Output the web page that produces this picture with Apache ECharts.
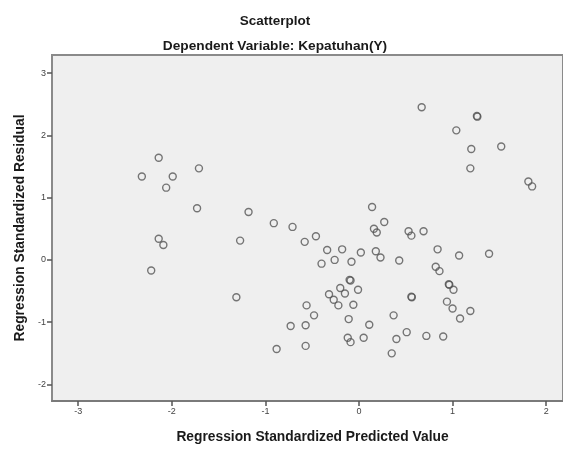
<!DOCTYPE html>
<html>
<head>
<meta charset="utf-8">
<script src="https://cdn.jsdelivr.net/npm/echarts@6/dist/echarts.min.js"></script>
<style>
  html, body { margin: 0; padding: 0; background: #fff; }
  #chart { width: 563px; height: 449px; }
</style>
</head>
<body>
<div id="chart"></div>
<script>
// predicted value (x) and residual (y)
const predicted = [
  -2.32, -2.14, -1.99, -2.06, -2.22, -2.14, -2.09, -1.71, -1.73, -1.31,
  -1.27, -1.18, -0.91, -0.71, -0.88, -0.73, -0.58, -0.46, -0.56, -0.48,
  -0.57, -0.57, -0.40, -0.34, -0.26, -0.18, -0.08, 0.02, -0.10, -0.09,
  -0.20, -0.01, -0.32, -0.15, -0.27, -0.22, -0.06, -0.11, -0.12, -0.09,
  0.05, 0.11, 0.14, 0.27, 0.16, 0.19, 0.18, 0.23, 0.43, 0.53,
  0.56, 0.69, 0.56, 0.565, 0.37, 0.51, 0.40, 0.35, 0.72, 0.90,
  0.84, 1.07, 1.39, 0.82, 0.86, 0.96, 0.965, 1.01, 0.94, 1.00,
  1.19, 1.08, 0.67, 1.26, 1.265, 1.04, 1.20, 1.52, 1.19, 1.81,
  1.85
];
const residual = [
  1.34, 1.64, 1.34, 1.16, -0.17, 0.34, 0.24, 1.47, 0.83, -0.60,
  0.31, 0.77, 0.59, 0.53, -1.43, -1.06, 0.29, 0.38, -0.73, -0.89,
  -1.05, -1.38, -0.06, 0.16, 0.00, 0.17, -0.03, 0.12, -0.32, -0.33,
  -0.45, -0.48, -0.55, -0.54, -0.64, -0.73, -0.72, -0.95, -1.25, -1.32,
  -1.25, -1.04, 0.85, 0.61, 0.50, 0.44, 0.14, 0.04, -0.01, 0.46,
  0.39, 0.46, -0.59, -0.60, -0.89, -1.16, -1.27, -1.50, -1.22, -1.23,
  0.17, 0.07, 0.10, -0.11, -0.18, -0.39, -0.40, -0.48, -0.67, -0.78,
  -0.82, -0.94, 2.45, 2.31, 2.30, 2.08, 1.78, 1.82, 1.47, 1.26,
  1.18
];
const xTicks = [-3, -2, -1, 0, 1, 2];
const yTicks = [-2, -1, 0, 1, 2, 3];

const points = predicted.map((x, i) => [x, residual[i]]);

const chart = echarts.init(document.getElementById('chart'));
const font = 'Arial, "Liberation Sans", sans-serif';

chart.setOption({
  animation: false,
  backgroundColor: '#fff',
  title: [
    {
      text: 'Scatterplot',
      left: 270,
      top: 9,
      textAlign: 'center',
      textStyle: { fontFamily: font, fontSize: 13.5, fontWeight: 'bold', color: '#1a1a1a' }
    },
    {
      text: 'Dependent Variable: Kepatuhan(Y)',
      left: 270,
      top: 34,
      textAlign: 'center',
      textStyle: { fontFamily: font, fontSize: 13.7, fontWeight: 'bold', color: '#1a1a1a' }
    }
  ],
  grid: {
    left: 52,
    right: -2,
    top: 55,
    bottom: 44,
    show: true,
    backgroundColor: '#efefef',
    borderColor: '#8a8a8a',
    borderWidth: 2
  },
  xAxis: {
    type: 'value',
    min: -3.28,
    max: 2.18,
    name: 'Regression Standardized Predicted Value',
    nameLocation: 'middle',
    nameGap: 29,
    nameTextStyle: { fontFamily: font, fontSize: 13.8, fontWeight: 'bold', color: '#1a1a1a', padding: [0, 0, 0, 10] },
    splitLine: { show: false },
    axisLine: { show: true, onZero: false, lineStyle: { color: '#7a7a7a', width: 2 } },
    axisTick: { show: true, length: 5, customValues: xTicks, lineStyle: { color: '#555', width: 1.5 } },
    axisLabel: { customValues: xTicks, fontFamily: font, fontSize: 9, color: '#444', margin: 6 }
  },
  yAxis: {
    type: 'value',
    min: -2.265,
    max: 3.29,
    name: 'Regression Standardized Residual',
    nameLocation: 'middle',
    nameRotate: 90,
    nameGap: 23,
    nameTextStyle: { fontFamily: font, fontSize: 13.8, fontWeight: 'bold', color: '#1a1a1a' },
    splitLine: { show: false },
    axisLine: { show: true, onZero: false, lineStyle: { color: '#8a8a8a', width: 2 } },
    axisTick: { show: true, length: 5, customValues: yTicks, lineStyle: { color: '#555', width: 1.5 } },
    axisLabel: { customValues: yTicks, fontFamily: font, fontSize: 9, color: '#444', margin: 6 }
  },
  series: [
    {
      type: 'scatter',
      data: points,
      symbol: 'circle',
      symbolSize: 7,
      itemStyle: {
        color: 'rgba(0,0,0,0)',
        borderColor: '#555',
        borderWidth: 1.4
      }
    }
  ]
});
</script>
</body>
</html>
